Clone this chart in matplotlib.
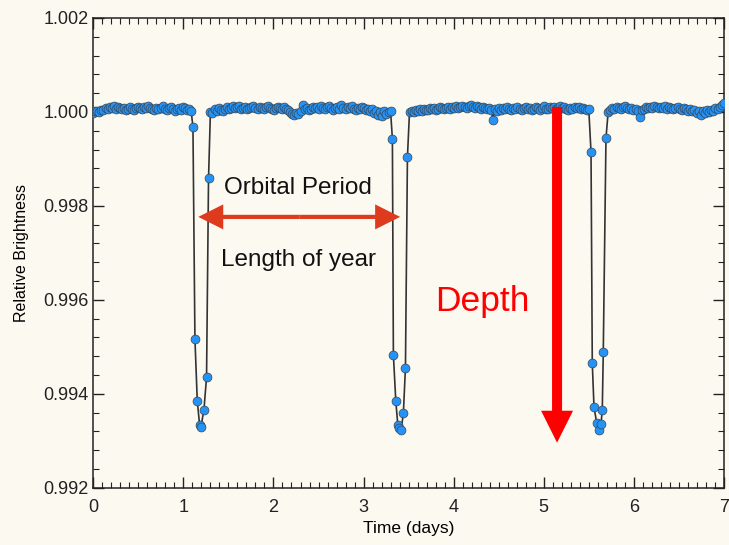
import numpy as np
import matplotlib
matplotlib.use("Agg")
import matplotlib.pyplot as plt
from matplotlib.ticker import MultipleLocator

plt.rcParams['font.family'] = ['Liberation Sans', 'DejaVu Sans']

# out-of-transit brightness, in ppm above 1.0, one list per stretch between transits
base_a_ppm = [-20, 10, 30, 0, 50, 40, 80, 60, 110, 90, 120, 70, 100, 80, 60, 90, 50, 70, 100, 60,
              40, 80, 110, 90, 60, 100, 80, 130, 90, 70, 50, 80, 60, 90, 120, 70, 40, 80, 100, 60,
              30, 70, 90, 50, 110, 80, 40, 60, 30]
base_b_ppm = [0, -30, 60, 20, 90, 40, 10, 70, 110, 60, 90, 130, 80, 100, 120, 70, 90, 110, 60, 80,
              100, 120, 90, 70, 110, 80, 60, 100, 130, 90, 70, 50, 90, 110, 80, 60, 100, 70, 40, 0,
              -40, -60, -20, -50, 20, 150, 60, 90, 40, 70, 100, 80, 110, 60, 130, 90, 70, 100, 120, 80,
              50, 90, 110, 70, 140, 80, 60, 100, 90, 120, 70, 50, 90, 60, 100, 80, 40, 70, 20, 60,
              -20, 30, -60, -10, -90, 20, -40, 0, 10]
base_c_ppm = [0, 30, -10, 40, 20, 60, 30, 70, 50, 40, 80, 60, 90, 50, 70, 100, 80, 60, 90, 110,
              70, 100, 80, 120, 90, 110, 130, 100, 80, 120, 150, 110, 90, 130, 100, 70, 110, 80, 60, 90,
              40, -170, 60, 20, 80, 50, 90, 60, 100, 70, 40, 80, 60, 100, 70, 50, 80, 110, 60, 90,
              40, 70, 100, 80, 50, 90, 120, 70, 60, 100, 80, 110, 60, 90, 130, 80, 100, 70, 50, 90,
              60, 100, 80, 110, 70, 90, 60, 40, 60]
base_d_ppm = [0, 40, 80, 60, 110, 90, 70, 100, 120, 80, 60, 90, 50, 70, 30, -100, 40, 70, 100, 80,
              110, 90, 130, 100, 80, 110, 90, 120, 70, 100, 80, 60, 90, 110, 70, 50, 80, 60, 30, 70,
              20, 50, -20, 30, -60, 10, -30, 40, 0, 50, 20, 80, 60, 110, 150, 190]
# start / end time (days) of each out-of-transit stretch
base_spans = [(0.0, 1.085), (1.300, 3.300), (3.510, 5.500), (5.715, 7.0)]

# in-transit points
t1_time = [1.106, 1.128, 1.154, 1.180, 1.195, 1.228, 1.257, 1.279]
t1_flux = [0.99969, 0.99517, 0.99385, 0.99334, 0.99330, 0.99366, 0.99435, 0.99859]
t2_time = [3.320, 3.331, 3.358, 3.380, 3.395, 3.417, 3.442, 3.465, 3.487]
t2_flux = [0.99943, 0.99483, 0.99384, 0.99334, 0.99328, 0.99323, 0.99359, 0.99456, 0.99904]
t3_time = [5.525, 5.539, 5.558, 5.588, 5.610, 5.636, 5.650, 5.661, 5.691]
t3_flux = [0.99914, 0.99465, 0.99372, 0.99338, 0.99323, 0.99336, 0.99366, 0.99489, 0.99944]

bases = [base_a_ppm, base_b_ppm, base_c_ppm, base_d_ppm]
transits = [(t1_time, t1_flux), (t2_time, t2_flux), (t3_time, t3_flux)]

time, flux = [], []
for i, (span, ppm) in enumerate(zip(base_spans, bases)):
    time.append(np.linspace(span[0], span[1], len(ppm)))
    flux.append(1.0 + np.array(ppm) * 1e-6)
    if i < len(transits):
        time.append(np.array(transits[i][0]))
        flux.append(np.array(transits[i][1]))
time = np.concatenate(time)
flux = np.concatenate(flux)

bg = '#fcf9f1'
fig = plt.figure(figsize=(7.29, 5.45), dpi=100, facecolor=bg)
ax = fig.add_axes([0.128, 0.105, 0.865, 0.862], facecolor=bg)

ax.plot(time, flux, '-', color='#333333', lw=1.2, zorder=2)
ax.plot(time, flux, 'o', ms=6.4, mfc='#2592f5', mec='#3a4550', mew=0.5, zorder=3)

ax.set_xlim(0, 7)
ax.set_ylim(0.992, 1.002)
ax.xaxis.set_major_locator(MultipleLocator(1))
ax.xaxis.set_minor_locator(MultipleLocator(0.1))
ax.yaxis.set_major_locator(MultipleLocator(0.002))
ax.yaxis.set_minor_locator(MultipleLocator(0.0004))
ax.yaxis.set_major_formatter(plt.FormatStrFormatter('%.3f'))
ax.tick_params(which='both', direction='in', top=True, right=True, labelsize=13, colors='#222222')
ax.tick_params(which='major', length=8, width=1)
ax.tick_params(which='minor', length=4, width=0.8)
ax.tick_params(axis='x', pad=8)
for s in ax.spines.values():
    s.set_linewidth(1.1)
    s.set_color('#222222')

ax.set_xlabel('Time (days)', fontsize=12.5, labelpad=4)
ax.set_ylabel('Relative Brightness', fontsize=11.5, labelpad=10)

# orbital period arrow
arrow_col = '#dd3a1e'
for end in (1.165, 3.406):
    ax.annotate('', xy=(end, 0.997766), xytext=(2.2855, 0.997766),
                arrowprops=dict(arrowstyle='simple,head_length=1.8,head_width=1.8,tail_width=0.3',
                                color=arrow_col, lw=0, shrinkA=0, shrinkB=0, mutation_scale=10),
                zorder=4)
ax.text(2.27, 0.99838, 'Orbital Period', fontsize=17.5, ha='center', va='center', color='#111111')
ax.text(2.28, 0.99684, 'Length of year', fontsize=17.5, ha='center', va='center', color='#111111')

# depth arrow
ax.annotate('', xy=(5.148, 0.99296), xytext=(5.148, 1.000106),
            arrowprops=dict(arrowstyle='simple,head_length=2.3,head_width=2.3,tail_width=0.72',
                            color='#ff0000', lw=0, shrinkA=0, shrinkB=0, mutation_scale=10),
            zorder=4)
ax.text(4.32, 0.99597, 'Depth', fontsize=25.5, ha='center', va='center', color='#ff0000')

fig.savefig('out.png', dpi=100, facecolor=bg)
